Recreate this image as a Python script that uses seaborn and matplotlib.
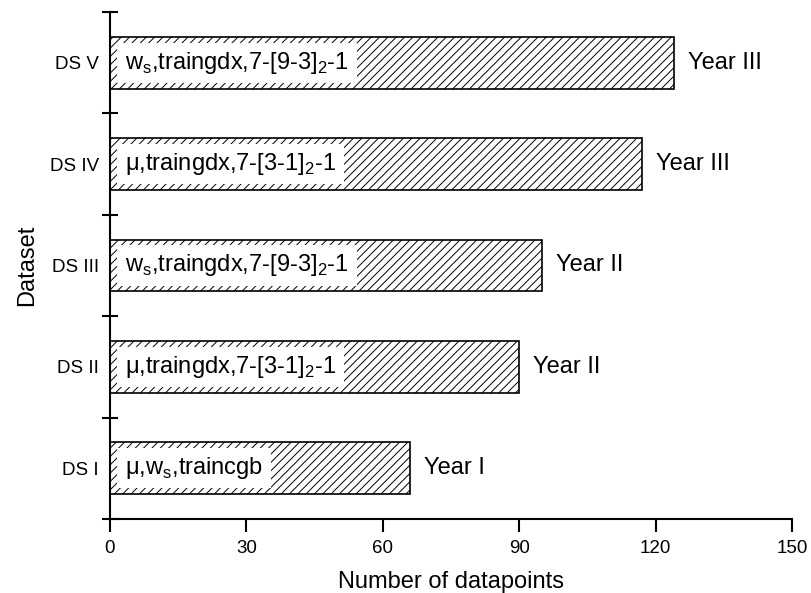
import matplotlib
matplotlib.use("Agg")
import matplotlib.pyplot as plt
import seaborn as sns
import pandas as pd
import numpy as np

categories = ["DS I", "DS II", "DS III", "DS IV", "DS V"]
values = [66, 90, 95, 117, 124]
inner_labels = [
    "μ,w$_\\mathregular{s}$,traincgb",
    "μ,traingdx,7-[3-1]$_\\mathregular{2}$-1",
    "w$_\\mathregular{s}$,traingdx,7-[9-3]$_\\mathregular{2}$-1",
    "μ,traingdx,7-[3-1]$_\\mathregular{2}$-1",
    "w$_\\mathregular{s}$,traingdx,7-[9-3]$_\\mathregular{2}$-1",
]
year_labels = ["Year I", "Year II", "Year II", "Year III", "Year III"]
xticks = [0, 30, 60, 90, 120, 150]

sns.set_style("ticks")
plt.rcParams["font.family"] = ["Liberation Sans", "DejaVu Sans"]
plt.rcParams["hatch.linewidth"] = 0.7
plt.rcParams["mathtext.fontset"] = "custom"
plt.rcParams["mathtext.rm"] = "Liberation Sans"
plt.rcParams["text.color"] = "black"
plt.rcParams["axes.labelcolor"] = "black"
plt.rcParams["xtick.color"] = "black"
plt.rcParams["ytick.color"] = "black"
plt.rcParams["xtick.labelcolor"] = "black"
plt.rcParams["ytick.labelcolor"] = "black"

df = pd.DataFrame({"Dataset": categories, "Value": values})
order = categories[::-1]

fig = plt.figure(figsize=(8.11, 5.93), dpi=100)
ax = fig.add_axes([0.1356, 0.1248, 0.841, 0.855])

sns.barplot(data=df, x="Value", y="Dataset", order=order, orient="h",
            color="white", edgecolor="black", linewidth=1.2, width=0.51,
            ax=ax)
for p in ax.patches:
    p.set_hatch("////")
    p.set_facecolor("white")
    p.set_edgecolor("black")

pos = {c: i for i, c in enumerate(order)}
for c, v, lab, yl in zip(categories, values, inner_labels, year_labels):
    y = pos[c]
    ax.text(3.2, y, lab + " ", fontsize=17, va="center", ha="left", color="black",
            bbox=dict(boxstyle="square,pad=0.3", facecolor="white", edgecolor="none"),
            zorder=5)
    ax.annotate(yl, xy=(v, y), xytext=(14, 0), textcoords="offset pixels",
                fontsize=17, va="center", ha="left", color="black")

ax.set_xlim(0, 150)
ax.set_ylim(4.5, -0.5)
ax.set_xticks(xticks)
ax.set_xticklabels([str(t) for t in xticks], fontsize=13.5)
ax.set_yticks(range(len(order)))
ax.set_yticklabels(order, fontsize=13.5)
ax.set_yticks(np.arange(-0.5, 4.6, 1.0), minor=True)
ax.tick_params(axis="y", which="major", length=0, pad=8)
ax.tick_params(axis="y", which="minor", length=12, width=1.5, direction="inout")
ax.tick_params(axis="x", which="major", length=9, width=1.5, direction="out", pad=6)
ax.set_xlabel("Number of datapoints", fontsize=17, labelpad=10)
ax.set_ylabel("Dataset", fontsize=17, labelpad=8)
for s in ["top", "right"]:
    ax.spines[s].set_visible(False)
for s in ["left", "bottom"]:
    ax.spines[s].set_linewidth(1.5)
    ax.spines[s].set_color("black")

fig.savefig("out.png", dpi=100)
